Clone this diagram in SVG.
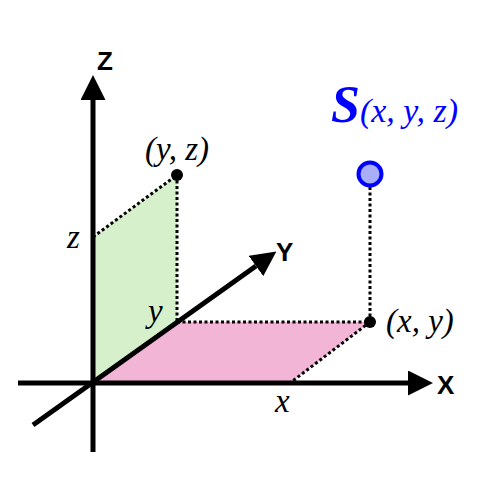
<svg xmlns="http://www.w3.org/2000/svg" width="500" height="500" viewBox="0 0 500 500">
<style>
.axis{stroke:#000;stroke-width:5;fill:none}
.dot{stroke:#000;stroke-width:3;stroke-dasharray:3 2.5;fill:none}
.lab{font-family:"Liberation Serif",serif;font-style:italic;font-size:33px;fill:#000}
.ax{font-family:"Liberation Sans",Arial,sans-serif;font-weight:bold;font-size:26px;fill:#000}
</style>
<defs>
<marker id="ah" markerWidth="5" markerHeight="5" refX="0" refY="2.5" orient="auto" markerUnits="strokeWidth" viewBox="0 0 5 5">
<path d="M0,0 L5,2.5 L0,5 z" fill="#000"/>
</marker>
</defs>
<g id="planes">
<polygon points="93,383 93,237 177,175 177,322" fill="#d5f0cb"/>
<polygon points="93,383 177,322 370,322 290,383" fill="#f2b5d6"/>
</g>
<g id="connectors">
<line class="axis" x1="93" y1="452" x2="93" y2="100" marker-end="url(#ah)"/>
<line class="axis" x1="18" y1="383" x2="408" y2="383" marker-end="url(#ah)"/>
<line class="axis" x1="33" y1="425" x2="256" y2="266" marker-end="url(#ah)"/>
<line class="dot" x1="93" y1="237" x2="177" y2="175"/>
<line class="dot" x1="177" y1="175" x2="177" y2="322"/>
<line class="dot" x1="177" y1="322" x2="370" y2="322"/>
<line class="dot" x1="370" y1="322" x2="290" y2="383"/>
<line class="dot" x1="370" y1="322" x2="370" y2="186"/>
</g>
<g id="axis-labels">
<text class="ax" x="97" y="70">Z</text>
<text class="ax" x="276" y="261">Y</text>
<text class="ax" x="437" y="394">X</text>
</g>
<g id="point-yz">
<circle cx="177" cy="175" r="6" fill="#000"/>
<text class="lab" x="177" y="160" text-anchor="middle">(y, z)</text>
</g>
<g id="point-xy">
<circle cx="370" cy="322" r="6" fill="#000"/>
<text class="lab" x="386" y="332">(x, y)</text>
</g>
<g id="tick-labels">
<text class="lab" x="67" y="248">z</text>
<text class="lab" x="148" y="322">y</text>
<text class="lab" x="275" y="412">x</text>
</g>
<g id="point-S">
<circle cx="370" cy="174" r="11.5" fill="#a8aef7" stroke="#0000ff" stroke-width="4"/>
<text x="331" y="122" font-family="Liberation Serif,serif" font-style="italic" fill="#0000ff"><tspan font-size="52" font-weight="bold">S</tspan><tspan font-size="34">(x, y, z)</tspan></text>
</g>
</svg>
